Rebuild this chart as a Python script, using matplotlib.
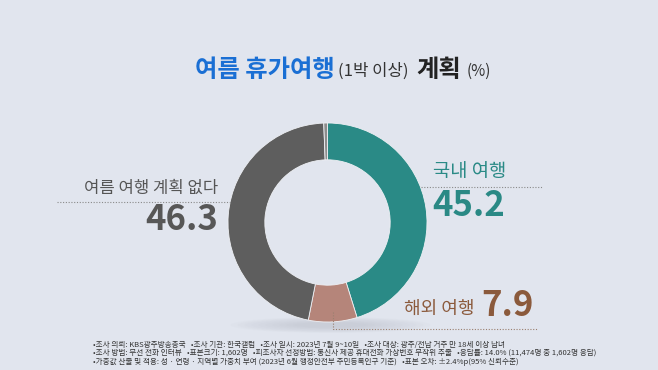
import numpy as np
import matplotlib.pyplot as plt
from matplotlib.patches import Ellipse

plt.rcParams['font.family'] = ['Noto Sans CJK KR', 'DejaVu Sans']

# ==============================
# Data
# ==============================
labels = ["국내 여행", "해외 여행", "여름 여행 계획 없다", "모름/응답거절"]
values = [45.2, 7.9, 46.3, 0.6]
colors = ["#2a8a86", "#b5857a", "#5e5e5e", "#8c8c8c"]

title_parts = ["여름 휴가여행", "(1박 이상)", "계획", "(%)"]
notes = [
    "•조사 의뢰: KBS광주방송총국   •조사 기관: 한국갤럽   •조사 일시: 2023년 7월 9~10일   •조사 대상: 광주/전남 거주 만 18세 이상 남녀",
    "•조사 방법: 무선 전화 인터뷰   •표본크기: 1,602명   •피조사자 선정방법: 통신사 제공 휴대전화 가상번호 무작위 추출   •응답률: 14.0% (11,474명 중 1,602명 응답)",
    "•가중값 산출 및 적용: 성 · 연령 · 지역별 가중치 부여 (2023년 6월 행정안전부 주민등록인구 기준)   •표본 오차: ±2.4%p(95% 신뢰수준)",
]

bg = "#e1e5ee"

# ==============================
# Figure in pixel coordinates
# ==============================
fig = plt.figure(figsize=(6.58, 3.70), dpi=100, facecolor=bg)
ax = fig.add_axes([0, 0, 1, 1])
ax.set_facecolor(bg)

cx, cy, r = 327.5, 222.5, 99.5

# soft shadow under the donut
for k in range(10):
    ax.add_patch(Ellipse((cx + 3, cy + r + 3), 200 - k * 14, 16 - k * 1.2,
                         facecolor="#a0a6b0", alpha=0.035, edgecolor="none", zorder=1))

ax.pie(values, colors=colors, startangle=270, counterclock=True,
       center=(cx, cy), radius=r, frame=True,
       wedgeprops=dict(width=r * 0.37, edgecolor="#eef0f4", linewidth=0.6, zorder=2))

ax.set_xlim(0, 658)
ax.set_ylim(370, 0)
ax.set_aspect('equal')
ax.axis('off')

# ==============================
# Title
# ==============================
ax.text(195, 70, title_parts[0], fontsize=17.5, fontweight='bold', color="#1a6fd4", va='center', ha='left')
ax.text(338, 71, title_parts[1], fontsize=12, color="#333333", va='center', ha='left')
ax.text(416, 70, title_parts[2], fontsize=17.5, fontweight='bold', color="#222222", va='center', ha='left')
ax.text(467, 71, title_parts[3], fontsize=11, color="#333333", va='center', ha='left')

# ==============================
# Labels
# ==============================
dot = dict(color="#8a8a8a", lw=0.8, ls=(0, (1, 1.5)), zorder=3)

# no plan (left)
ax.text(218, 188, labels[2], fontsize=12, color="#555555", va='center', ha='right')
ax.plot([57, 232], [202, 202], **dot)
ax.text(218, 219, f"{values[2]}", fontsize=25, fontweight='bold', color="#575757", va='center', ha='right')

# domestic (right)
ax.text(433, 172, labels[0], fontsize=13.5, color=colors[0], va='center', ha='left')
ax.plot([421, 542], [187, 187], **dot)
ax.text(432, 206, f"{values[0]}", fontsize=25, fontweight='bold', color="#2a8985", va='center', ha='left')

# overseas (bottom)
ax.text(474, 309, labels[1], fontsize=13, color="#8b5a3c", va='center', ha='right')
ax.text(481, 305, f"{values[1]}", fontsize=25, fontweight='bold', color="#8b5a3c", va='center', ha='left')
ax.plot([333, 333, 538], [312, 329, 329], color="#9a8070", lw=0.8, ls=(0, (1, 1.5)), zorder=3)

# ==============================
# Footnote
# ==============================
for i, line in enumerate(notes):
    ax.text(93, 344.5 + i * 8.5, line, fontsize=5.5, color="#333333", va='center', ha='left')

fig.savefig("out.png", dpi=100, facecolor=bg)
